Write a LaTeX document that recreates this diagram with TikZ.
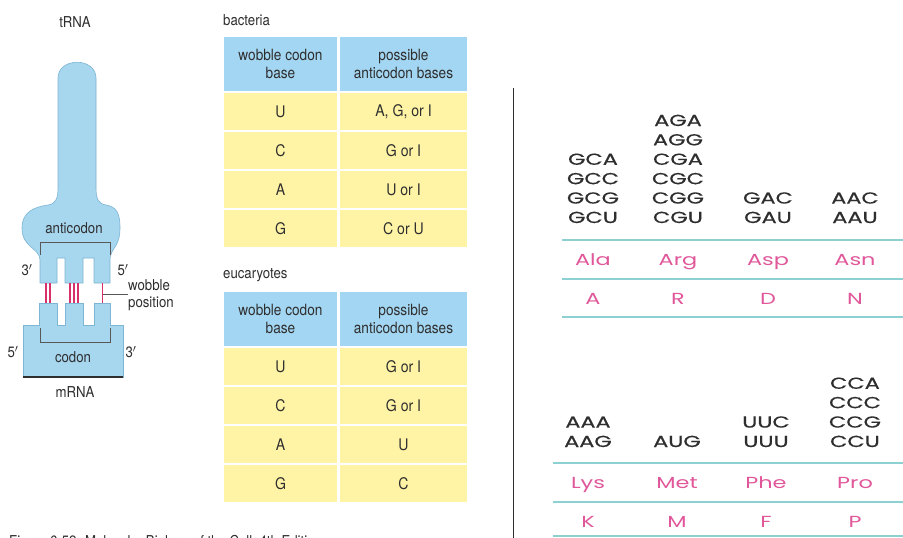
\documentclass[tikz,border=0pt]{standalone}
\usepackage{fontspec}
\usepackage{graphicx}
\setmainfont{TeX Gyre Heros}[FakeStretch=0.88]
\newfontfamily\gothic{Poppins}[FakeBold=0.4]
\newfontfamily\gothiclight{Poppins}
\definecolor{rnablue}{HTML}{A7D6EF}
\definecolor{rnaedge}{HTML}{7DB5D4}
\definecolor{hdrblue}{HTML}{A3D6F2}
\definecolor{cellyellow}{HTML}{FFF4A6}
\definecolor{bondred}{HTML}{D8306A}
\definecolor{aapink}{HTML}{E0579A}
\definecolor{rulecol}{HTML}{8CD0D2}
\definecolor{ink}{HTML}{2E2E2E}
\newcommand\widen[1]{\scalebox{1.4}[1]{#1}}
\begin{document}
\begin{tikzpicture}[x=1pt,y=-1pt,
  lbl/.style={font=\fontsize{15}{17}\selectfont, text=ink, inner sep=0pt},
  rna/.style={fill=rnablue, draw=rnaedge, line width=0.6pt, line join=round},
  bracket/.style={draw=ink!80, line width=0.8pt},
  bond/.style={draw=bondred, line width=1.4pt},
  leader/.style={draw=ink!80, line width=0.7pt},
  hdrcell/.style={fill=hdrblue, inner sep=0pt, align=center, text=ink,
    font=\fontsize{15.5}{18.5}\selectfont, minimum height=54pt},
  bodycell/.style={fill=cellyellow, inner sep=0pt, text=ink,
    font=\fontsize{16}{18}\selectfont, minimum height=37pt},
  colA/.style={minimum width=113pt},
  colB/.style={minimum width=127pt},
  codon/.style={font=\gothic\fontsize{16}{18}\selectfont, text=ink,
    inner sep=0pt, anchor=base},
  amino/.style={codon, font=\gothiclight\fontsize{16}{18}\selectfont, text=aapink},
  rowrule/.style={draw=rulecol, line width=1.4pt}]
\clip (0,0) rectangle (903,538);
\fill[white] (0,0) rectangle (903,538);

% ---------- tRNA paired with mRNA ----------
\node[lbl] (trnalabel) at (75,22) {tRNA};
\filldraw[rna] (40,283) -- (40,260)
  .. controls (40,248) and (22,248) .. (22,228)
  .. controls (22,212) and (34,207) .. (48,205)
  .. controls (56,204) and (58,198) .. (58,188)
  -- (58,78) .. controls (58,57) and (96,57) .. (96,78)
  -- (96,188) .. controls (96,198) and (98,204) .. (106,205)
  .. controls (116,207) and (120,212) .. (120,228)
  .. controls (120,248) and (110,248) .. (110,260)
  -- (110,283) -- (94,283) -- (94,258) -- (83,258) -- (83,283)
  -- (65,283) -- (65,258) -- (57,258) -- (57,283) -- cycle;
\filldraw[rna] (23,377) -- (23,325) -- (39,325) -- (39,303) -- (57,303)
  -- (57,325) -- (65,325) -- (65,303) -- (83,303) -- (83,325)
  -- (94,325) -- (94,303) -- (110,303) -- (110,325) -- (123,325)
  -- (123,377) -- cycle;
\draw[draw=ink, line width=1.3pt] (23,377) -- (123,377);
\draw[bracket] (40,255) -- (40,242) -- (110,242) -- (110,255);
\draw[bracket] (40,328) -- (40,342) -- (110,342) -- (110,328);
% hydrogen bonds
\foreach \x in {46,50} \draw[bond] (\x,283) -- (\x,303);
\foreach \x in {70,74,78} \draw[bond] (\x,283) -- (\x,303);
\draw[bond] (102.5,283) -- (102.5,303);
\node[lbl] (anticodon) at (74,228) {anticodon};
\node[lbl] (codon) at (73,357) {codon};
\node[lbl] (mrna) at (75,392) {mRNA};
\node[lbl] (tthree) at (27,270) {3$'$};
\node[lbl] (tfive) at (123,270) {5$'$};
\node[lbl] (mfive) at (13,352) {5$'$};
\node[lbl] (mthree) at (131,352) {3$'$};
\node[lbl, align=left, anchor=west] (wobtxt) at (128,295) {wobble\\position};
\coordinate (wob) at (102.5,294);
\draw[leader] (wob) -- (wob -| wobtxt.west);

% ---------- wobble tables ----------
\node[lbl, anchor=west] (bactlabel) at (223,20) {bacteria};
\node[hdrcell, colA] (bh1) at (280.5,64) {wobble codon\\base};
\node[hdrcell, colB] (bh2) at (403.5,64) {possible\\anticodon bases};
\node[bodycell, colA] (b11) at (280.5,111.5) {U};
\node[bodycell, colB] (b12) at (403.5,111.5) {A, G, or I};
\node[bodycell, colA] (b21) at (280.5,150.5) {C};
\node[bodycell, colB] (b22) at (403.5,150.5) {G or I};
\node[bodycell, colA] (b31) at (280.5,189.5) {A};
\node[bodycell, colB] (b32) at (403.5,189.5) {U or I};
\node[bodycell, colA] (b41) at (280.5,228.5) {G};
\node[bodycell, colB] (b42) at (403.5,228.5) {C or U};

\node[lbl, anchor=west] (eucalabel) at (223,275) {eucaryotes};
\node[hdrcell, colA] (eh1) at (280.5,319) {wobble codon\\base};
\node[hdrcell, colB] (eh2) at (403.5,319) {possible\\anticodon bases};
\node[bodycell, colA] (e11) at (280.5,366.5) {U};
\node[bodycell, colB] (e12) at (403.5,366.5) {G or I};
\node[bodycell, colA] (e21) at (280.5,405.5) {C};
\node[bodycell, colB] (e22) at (403.5,405.5) {G or I};
\node[bodycell, colA] (e31) at (280.5,444.5) {A};
\node[bodycell, colB] (e32) at (403.5,444.5) {U};
\node[bodycell, colA] (e41) at (280.5,483.5) {G};
\node[bodycell, colB] (e42) at (403.5,483.5) {C};

\node[lbl, anchor=base west] (caption) at (9,546)
  {Figure 6-52. Molecular Biology of the Cell, 4th Edition.};

% divider
\draw[draw=ink, line width=1pt] (513,88) -- (513,538);

% ---------- codon table ----------
\draw[rowrule] (562,240) -- (903,240);
\draw[rowrule] (562,279) -- (903,279);
\draw[rowrule] (562,317) -- (903,317);
\draw[rowrule] (553,463) -- (903,463);
\draw[rowrule] (553,502) -- (903,502);
\draw[rowrule] (553,536) -- (903,536);

\foreach \t [count=\k] in {GCU,GCG,GCC,GCA}
  \node[codon] (ala\k) at (593,{223-19.4*(\k-1)}) {\widen{\t}};
\foreach \t [count=\k] in {CGU,CGG,CGC,CGA,AGG,AGA}
  \node[codon] (arg\k) at (678,{223-19.4*(\k-1)}) {\widen{\t}};
\foreach \t [count=\k] in {GAU,GAC}
  \node[codon] (asp\k) at (768,{223-19.4*(\k-1)}) {\widen{\t}};
\foreach \t [count=\k] in {AAU,AAC}
  \node[codon] (asn\k) at (855,{223-19.4*(\k-1)}) {\widen{\t}};
\node[amino] (alaname) at (593,265) {\widen{Ala}};
\node[amino] (argname) at (678,265) {\widen{Arg}};
\node[amino] (aspname) at (768,265) {\widen{Asp}};
\node[amino] (asnname) at (855,265) {\widen{Asn}};
\node[amino] (alaone) at (593,304) {\widen{A}};
\node[amino] (argone) at (678,304) {\widen{R}};
\node[amino] (aspone) at (768,304) {\widen{D}};
\node[amino] (asnone) at (855,304) {\widen{N}};

\foreach \t [count=\k] in {AAG,AAA}
  \node[codon] (lys\k) at (588,{447-19.4*(\k-1)}) {\widen{\t}};
\node[codon] (met1) at (677,447) {\widen{AUG}};
\foreach \t [count=\k] in {UUU,UUC}
  \node[codon] (phe\k) at (766,{447-19.4*(\k-1)}) {\widen{\t}};
\foreach \t [count=\k] in {CCU,CCG,CCC,CCA}
  \node[codon] (pro\k) at (855,{447-19.4*(\k-1)}) {\widen{\t}};
\node[amino] (lysname) at (588,488) {\widen{Lys}};
\node[amino] (metname) at (677,488) {\widen{Met}};
\node[amino] (phename) at (766,488) {\widen{Phe}};
\node[amino] (proname) at (855,488) {\widen{Pro}};
\node[amino] (lysone) at (588,527) {\widen{K}};
\node[amino] (metone) at (677,527) {\widen{M}};
\node[amino] (pheone) at (766,527) {\widen{F}};
\node[amino] (proone) at (855,527) {\widen{P}};
\end{tikzpicture}
\end{document}
